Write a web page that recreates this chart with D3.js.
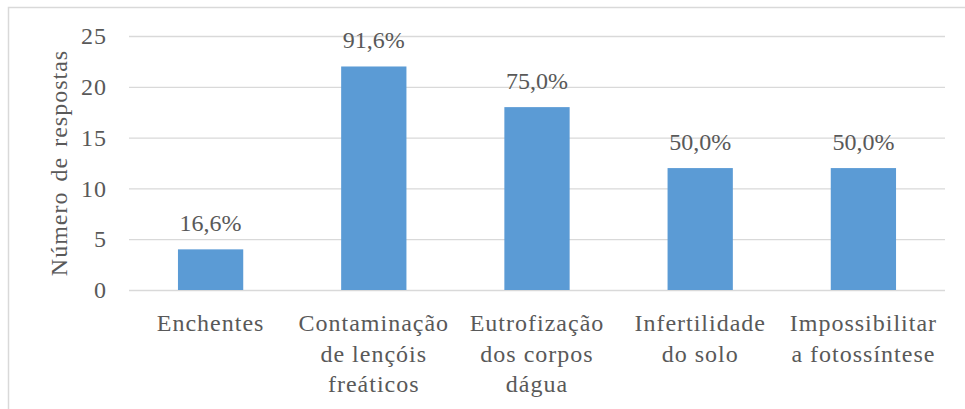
<!DOCTYPE html>
<html>
<head>
<meta charset="utf-8">
<script src="https://cdn.jsdelivr.net/npm/d3@7"></script>
</head>
<body style="margin:0">
<svg id="chart" width="965" height="409" font-family="Liberation Serif"></svg>
<script>
// categories (each entry split into the lines shown under the axis)
const categories = [
    ['Enchentes'],
    ['Contaminação', 'de lençóis', 'freáticos'],
    ['Eutrofização', 'dos corpos', 'dágua'],
    ['Infertilidade', 'do solo'],
    ['Impossibilitar', 'a fotossíntese']
];
const responses = [4, 22, 18, 12, 12];
const percentLabels = ['16,6%', '91,6%', '75,0%', '50,0%', '50,0%'];
const yTicks = [0, 5, 10, 15, 20, 25];

const width = 965;
const height = 409;
const margin = { top: 36, right: 20, bottom: 119, left: 129 };
const fontSize = 24;
const textColor = '#595959';

const svg = d3.select('#chart');

// chart frame
svg.append('rect')
    .attr('x', 8.5)
    .attr('y', 7.5)
    .attr('width', width)
    .attr('height', height)
    .attr('fill', 'none')
    .attr('stroke', '#d9d9d9')
    .attr('stroke-width', 1.5);

const keys = categories.map((c, i) => i);

const x = d3.scaleBand()
    .domain(keys)
    .range([margin.left, width - margin.right])
    .padding(0);

const y = d3.scaleLinear()
    .domain([0, 25])
    .range([height - margin.bottom, margin.top]);

const barWidth = x.bandwidth() * 0.4;

// gridlines + tick labels
const yAxis = svg.append('g')
    .attr('transform', `translate(${margin.left},0)`)
    .call(d3.axisLeft(y)
        .tickValues(yTicks)
        .tickSize(-(width - margin.right - margin.left))
        .tickPadding(22));

yAxis.attr('font-family', 'Liberation Serif').attr('font-size', fontSize);
yAxis.select('.domain').remove();
yAxis.selectAll('.tick line')
    .attr('stroke', '#d9d9d9')
    .attr('stroke-width', 1.3);
yAxis.selectAll('.tick text')
    .attr('letter-spacing', 1)
    .attr('fill', textColor);

// bars
svg.selectAll('.bar')
    .data(responses)
    .join('rect')
    .attr('class', 'bar')
    .attr('x', (d, i) => x(i) + (x.bandwidth() - barWidth) / 2)
    .attr('y', d => y(d))
    .attr('width', barWidth)
    .attr('height', d => y(0) - y(d))
    .attr('fill', '#5b9bd5');

// percentage labels
svg.selectAll('.pct')
    .data(responses)
    .join('text')
    .attr('class', 'pct')
    .attr('x', (d, i) => x(i) + x.bandwidth() / 2)
    .attr('y', d => y(d) - 18)
    .attr('text-anchor', 'middle')
    .attr('font-size', fontSize)
    .attr('fill', textColor)
    .text((d, i) => percentLabels[i]);

// category labels
const catLabels = svg.selectAll('.cat')
    .data(categories)
    .join('text')
    .attr('class', 'cat')
    .attr('text-anchor', 'middle')
    .attr('font-size', fontSize)
    .attr('letter-spacing', 1)
    .attr('fill', textColor)
    .attr('y', y(0) + 41);

catLabels.selectAll('tspan')
    .data((d, i) => d.map(line => ({ line, i })))
    .join('tspan')
    .attr('x', d => x(d.i) + x.bandwidth() / 2)
    .attr('dy', (d, j) => j === 0 ? 0 : 30.5)
    .text(d => d.line);

// axis title
svg.append('text')
    .attr('transform', `translate(67,${(y(0) + y(25)) / 2}) rotate(-90)`)
    .attr('text-anchor', 'middle')
    .attr('font-size', fontSize)
    .attr('letter-spacing', 1)
    .attr('word-spacing', 3)
    .attr('fill', textColor)
    .text('Número de respostas');
</script>
</body>
</html>
